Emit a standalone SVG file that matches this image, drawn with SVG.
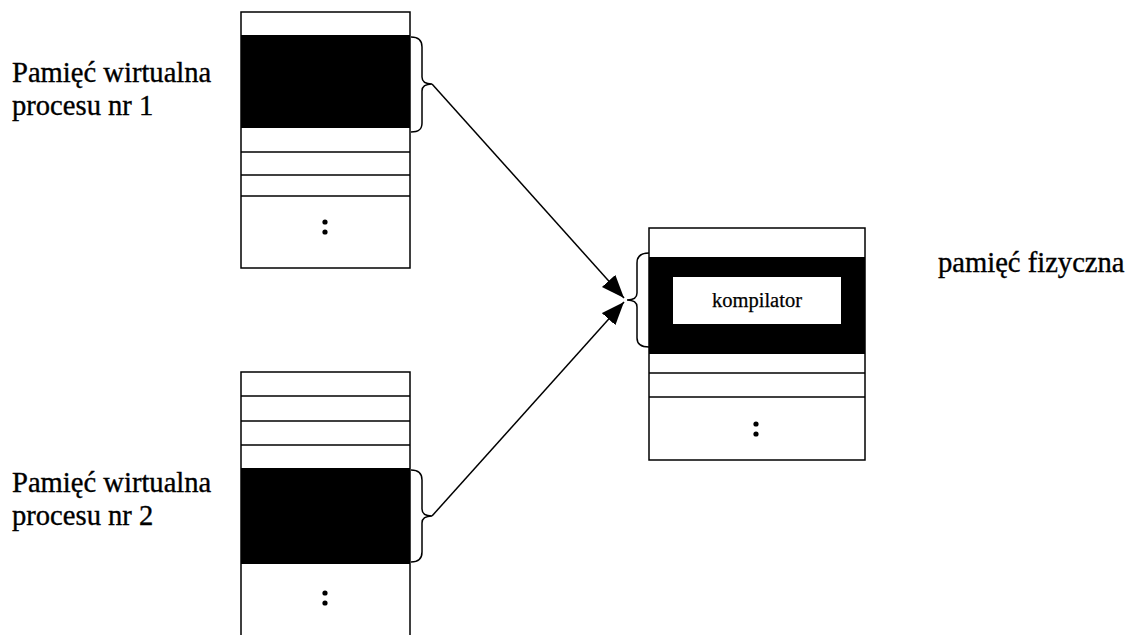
<svg xmlns="http://www.w3.org/2000/svg" width="1128" height="635" viewBox="0 0 1128 635">
  <style>
    .frame { fill: #fff; stroke: #000; stroke-width: 1.5; }
    .row { stroke: #000; stroke-width: 1.5; }
    .page { fill: #000; }
    .brace { fill: none; stroke: #000; stroke-width: 1.5; }
    .dot { fill: #000; }
    .label { font-family: 'Liberation Serif', 'Times New Roman', serif; font-size: 28.6px; fill: #000; stroke: #000; stroke-width: 0.35; }
    .inner { font-family: 'Liberation Serif', 'Times New Roman', serif; font-size: 20.5px; fill: #000; stroke: #000; stroke-width: 0.25; }
    .link { fill: none; stroke: #000; stroke-width: 1.5; }
  </style>
  <defs>
    <marker id="head" markerUnits="userSpaceOnUse" markerWidth="26" markerHeight="20" refX="23" refY="9" orient="auto">
      <path d="M0,0 L23,9 L0,18 z" fill="#000"/>
    </marker>
  </defs>

  <rect width="1128" height="635" fill="#fff"/>

  <!-- virtual memory of process 1 -->
  <g id="vm1">
    <rect class="frame" x="241" y="12" width="169" height="256"/>
    <rect class="page" x="241" y="35" width="169" height="93"/>
    <line class="row" x1="241" y1="152" x2="410" y2="152"/>
    <line class="row" x1="241" y1="175" x2="410" y2="175"/>
    <line class="row" x1="241" y1="196" x2="410" y2="196"/>
    <circle class="dot" cx="325" cy="222" r="2.6"/>
    <circle class="dot" cx="325" cy="232" r="2.6"/>
    <path class="brace" d="M411,37 C418,37 422,40 422,47 L422,77 C422,82 426,84 432,84 C426,84 422,86 422,91 L422,123 C422,130 418,132 411,132"/>
    <text class="label" x="12" y="82">Pamięć wirtualna</text>
    <text class="label" x="12" y="115">procesu nr 1</text>
  </g>

  <!-- virtual memory of process 2 -->
  <g id="vm2">
    <rect class="frame" x="241" y="372" width="169" height="280"/>
    <line class="row" x1="241" y1="396" x2="410" y2="396"/>
    <line class="row" x1="241" y1="421" x2="410" y2="421"/>
    <line class="row" x1="241" y1="445" x2="410" y2="445"/>
    <rect class="page" x="241" y="468" width="169" height="96"/>
    <circle class="dot" cx="325" cy="593" r="2.6"/>
    <circle class="dot" cx="325" cy="603" r="2.6"/>
    <path class="brace" d="M411,470 C418,470 422,473 422,480 L422,509 C422,514 426,516 432,516 C426,516 422,518 422,523 L422,552 C422,559 418,562 411,562"/>
    <text class="label" x="12" y="492">Pamięć wirtualna</text>
    <text class="label" x="12" y="525">procesu nr 2</text>
  </g>

  <!-- physical memory -->
  <g id="phys">
    <rect class="frame" x="649" y="228" width="216" height="232"/>
    <rect class="page" x="649" y="257" width="216" height="97"/>
    <rect x="673" y="277" width="168" height="47" fill="#fff"/>
    <text class="inner" x="757" y="307" text-anchor="middle">kompilator</text>
    <line class="row" x1="649" y1="373" x2="865" y2="373"/>
    <line class="row" x1="649" y1="397" x2="865" y2="397"/>
    <circle class="dot" cx="756" cy="424" r="2.6"/>
    <circle class="dot" cx="756" cy="434" r="2.6"/>
    <path class="brace" d="M649,253 C642,253 637,256 637,263 L637,293 C637,298 633,300 627,300 C633,300 637,302 637,307 L637,338 C637,345 642,347 649,347"/>
    <text class="label" x="938" y="272">pamięć fizyczna</text>
  </g>

  <!-- mappings to the shared physical page -->
  <g id="connectors">
    <line class="link" x1="432" y1="84" x2="624" y2="298" marker-end="url(#head)"/>
    <line class="link" x1="432" y1="516" x2="624" y2="302" marker-end="url(#head)"/>
  </g>
</svg>
